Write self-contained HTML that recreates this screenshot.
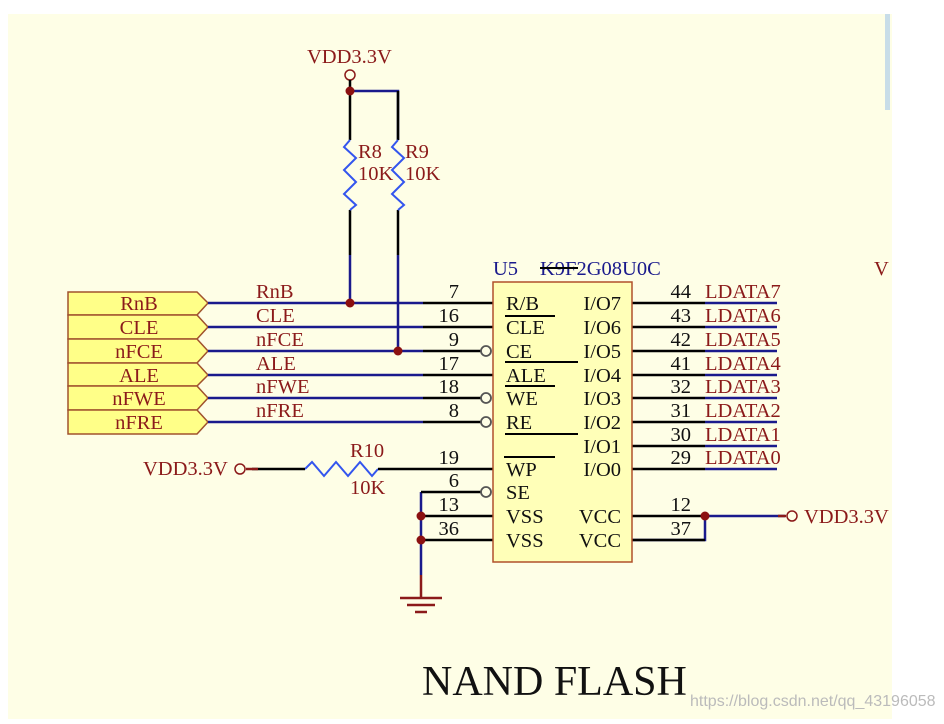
<!DOCTYPE html>
<html><head><meta charset="utf-8"><style>
body{margin:0;background:#fff;width:944px;height:719px;overflow:hidden}
svg text{font-family:"Liberation Serif",serif}
</style></head><body>
<svg width="944" height="719" xmlns="http://www.w3.org/2000/svg">
<rect x="8" y="14" width="884" height="705" fill="#fefee6"/>
<rect x="885" y="14" width="5" height="96" fill="#c8dde8"/>
<g font-size="20.5" fill="#8b1a1a">
<text x="307" y="63">VDD3.3V</text>
</g>
<circle cx="350" cy="75" r="5" fill="none" stroke="#8b1a1a" stroke-width="1.5"/>
<g stroke="#1a1a8c" stroke-width="2.5" fill="none">
<polyline points="350,91 398,91 398,140"/>
<line x1="350" y1="255" x2="350" y2="303"/>
<line x1="398" y1="255" x2="398" y2="351"/>
</g>
<g stroke="#000" stroke-width="2.5" fill="none">
<line x1="350" y1="80" x2="350" y2="140"/>
<line x1="398" y1="91" x2="398" y2="140"/>
<line x1="350" y1="210" x2="350" y2="255"/>
<line x1="398" y1="210" x2="398" y2="255"/>
</g>
<g stroke="#3355ee" stroke-width="2" fill="none">
<polyline points="350,140 344,147 356,158 344,170 356,182 344,194 356,205 350,210"/>
<polyline points="398,140 392,147 404,158 392,170 404,182 392,194 404,205 398,210"/>
<polyline points="305,469 312,462 324,476 336,462 348,476 360,462 372,476 378,469"/>
</g>
<g font-size="20.5" fill="#8b1a1a">
<text x="358" y="158">R8</text><text x="358" y="180">10K</text>
<text x="405" y="158">R9</text><text x="405" y="180">10K</text>
</g>
<g stroke="#a0522d" stroke-width="1.5" fill="#ffff88">
<polygon points="68,292 197,292 208,303 197,315 68,315"/>
<polygon points="68,315 197,315 208,327 197,339 68,339"/>
<polygon points="68,339 197,339 208,351 197,363 68,363"/>
<polygon points="68,363 197,363 208,375 197,386 68,386"/>
<polygon points="68,386 197,386 208,398 197,410 68,410"/>
<polygon points="68,410 197,410 208,422 197,434 68,434"/>
</g>
<g font-size="20.5" fill="#8b1a1a" text-anchor="middle">
<text x="139" y="310">RnB</text><text x="139" y="334">CLE</text><text x="139" y="358">nFCE</text>
<text x="139" y="382">ALE</text><text x="139" y="405">nFWE</text><text x="139" y="429">nFRE</text>
</g>
<g stroke-width="2.5">
<g stroke="#1a1a8c">
<line x1="208" y1="303" x2="423" y2="303"/><line x1="208" y1="327" x2="423" y2="327"/>
<line x1="208" y1="351" x2="423" y2="351"/><line x1="208" y1="375" x2="423" y2="375"/>
<line x1="208" y1="398" x2="423" y2="398"/><line x1="208" y1="422" x2="423" y2="422"/>
<line x1="705" y1="303" x2="777" y2="303"/><line x1="705" y1="327" x2="777" y2="327"/>
<line x1="705" y1="351" x2="777" y2="351"/><line x1="705" y1="375" x2="777" y2="375"/>
<line x1="705" y1="398" x2="777" y2="398"/><line x1="705" y1="422" x2="777" y2="422"/>
<line x1="705" y1="446" x2="777" y2="446"/><line x1="705" y1="469" x2="777" y2="469"/>
<polyline points="421,492 421,575" fill="none"/>
<polyline points="705,516 785,516" fill="none"/>
<polyline points="632,540 705,540 705,516" fill="none"/>
</g>
<g stroke="#000">
<line x1="423" y1="303" x2="493" y2="303"/><line x1="423" y1="327" x2="493" y2="327"/>
<line x1="423" y1="351" x2="481" y2="351"/><line x1="423" y1="375" x2="493" y2="375"/>
<line x1="423" y1="398" x2="481" y2="398"/><line x1="423" y1="422" x2="481" y2="422"/>
<line x1="632" y1="303" x2="705" y2="303"/><line x1="632" y1="327" x2="705" y2="327"/>
<line x1="632" y1="351" x2="705" y2="351"/><line x1="632" y1="375" x2="705" y2="375"/>
<line x1="632" y1="398" x2="705" y2="398"/><line x1="632" y1="422" x2="705" y2="422"/>
<line x1="632" y1="446" x2="705" y2="446"/><line x1="632" y1="469" x2="705" y2="469"/>
<line x1="252" y1="469" x2="305" y2="469"/><line x1="378" y1="469" x2="493" y2="469"/>
<polyline points="421,492 481,492" fill="none"/>
<line x1="421" y1="516" x2="493" y2="516"/><line x1="421" y1="540" x2="493" y2="540"/>
<line x1="632" y1="516" x2="705" y2="516"/><line x1="632" y1="540" x2="705" y2="540"/>
</g>
<g stroke="#8b1a1a">
<line x1="246" y1="469" x2="258" y2="469"/>
<line x1="421" y1="575" x2="421" y2="598"/>
<line x1="400" y1="598" x2="442" y2="598"/>
<line x1="407" y1="605" x2="435" y2="605"/>
<line x1="415" y1="612" x2="427" y2="612"/>
<line x1="778" y1="516" x2="786" y2="516"/>
</g>
</g>
<g fill="none" stroke="#555" stroke-width="1.8">
<circle cx="486" cy="351" r="5"/><circle cx="486" cy="398" r="5"/>
<circle cx="486" cy="422" r="5"/><circle cx="486" cy="492" r="5"/>
</g>
<g fill="none" stroke="#8b1a1a" stroke-width="1.5">
<circle cx="240" cy="469" r="5"/><circle cx="792" cy="516" r="5"/>
</g>
<g fill="#8b1010">
<circle cx="350" cy="91" r="4.5"/><circle cx="350" cy="303" r="4.5"/><circle cx="398" cy="351" r="4.5"/>
<circle cx="421" cy="516" r="4.5"/><circle cx="421" cy="540" r="4.5"/><circle cx="705" cy="516" r="4.5"/>
</g>
<rect x="493" y="282" width="139" height="280" fill="#ffffb8" stroke="#b0502a" stroke-width="1.5"/>
<g font-size="20.5" fill="#8b1a1a">
<text x="256" y="298">RnB</text><text x="256" y="322">CLE</text><text x="256" y="346">nFCE</text>
<text x="256" y="370">ALE</text><text x="256" y="393">nFWE</text><text x="256" y="417">nFRE</text>
<text x="143" y="475">VDD3.3V</text>
<text x="350" y="457">R10</text><text x="350" y="494">10K</text>
<text x="804" y="523">VDD3.3V</text>
<text x="874" y="275">V</text>
<text x="705" y="298">LDATA7</text><text x="705" y="322">LDATA6</text><text x="705" y="346">LDATA5</text>
<text x="705" y="370">LDATA4</text><text x="705" y="393">LDATA3</text><text x="705" y="417">LDATA2</text>
<text x="705" y="441">LDATA1</text><text x="705" y="464">LDATA0</text>
</g>
<g font-size="20.5" fill="#1a1a8c">
<text x="493" y="275">U5</text><text x="540" y="275">K9F2G08U0C</text>
</g>
<line x1="540" y1="268" x2="578" y2="268" stroke="#000" stroke-width="2"/>
<g font-size="20.5" fill="#111" text-anchor="end">
<text x="459" y="298">7</text><text x="459" y="322">16</text><text x="459" y="346">9</text>
<text x="459" y="370">17</text><text x="459" y="393">18</text><text x="459" y="417">8</text>
<text x="459" y="464">19</text><text x="459" y="487">6</text><text x="459" y="511">13</text><text x="459" y="535">36</text>
<text x="691" y="298">44</text><text x="691" y="322">43</text><text x="691" y="346">42</text>
<text x="691" y="370">41</text><text x="691" y="393">32</text><text x="691" y="417">31</text>
<text x="691" y="441">30</text><text x="691" y="464">29</text><text x="691" y="511">12</text><text x="691" y="535">37</text>
<text x="621" y="310">I/O7</text><text x="621" y="334">I/O6</text><text x="621" y="358">I/O5</text>
<text x="621" y="382">I/O4</text><text x="621" y="405">I/O3</text><text x="621" y="429">I/O2</text>
<text x="621" y="453">I/O1</text><text x="621" y="476">I/O0</text>
<text x="621" y="523">VCC</text><text x="621" y="547">VCC</text>
</g>
<g font-size="20.5" fill="#111">
<text x="506" y="310">R/B</text><text x="506" y="334">CLE</text><text x="506" y="358">CE</text>
<text x="506" y="382">ALE</text><text x="506" y="405">WE</text><text x="506" y="429">RE</text>
<text x="506" y="476">WP</text><text x="506" y="499">SE</text>
<text x="506" y="523">VSS</text><text x="506" y="547">VSS</text>
</g>
<g stroke="#000" stroke-width="2">
<line x1="505" y1="316" x2="555" y2="316"/><line x1="505" y1="362" x2="578" y2="362"/>
<line x1="505" y1="386" x2="555" y2="386"/><line x1="505" y1="434" x2="578" y2="434"/>
<line x1="504" y1="457" x2="555" y2="457"/>
</g>
<text x="422" y="695" font-size="42" fill="#111">NAND FLASH</text>
<text x="690" y="706" font-size="16" fill="#bbb" style="font-family:'Liberation Sans',sans-serif">https://blog.csdn.net/qq_43196058</text>
</svg>
</body></html>
